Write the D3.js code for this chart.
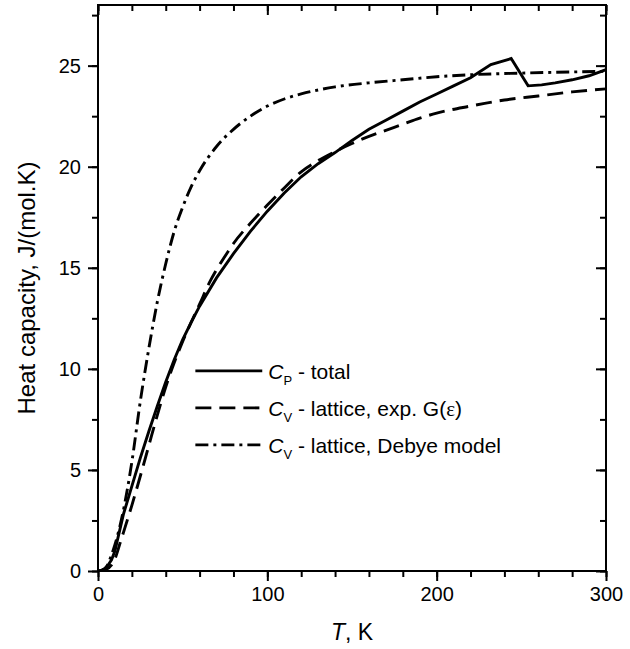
<!DOCTYPE html>
<html>
<head>
<meta charset="utf-8">
<script src="https://cdn.jsdelivr.net/npm/d3@7"></script>
<style>
  body { margin: 0; background: #fff; }
  text { font-family: "Liberation Sans", Arial, Helvetica, sans-serif; fill: #000; }
</style>
</head>
<body>
<script>
// C_P - total (measured)
const cpT = [0, 2, 4, 6, 8, 10, 15, 20, 25, 30, 35, 40, 45, 50, 55, 60, 70, 80, 90, 100, 110, 120, 130, 140, 150, 160, 170, 180, 190, 200, 210, 220, 232, 244, 254, 262, 270, 280, 290, 300];
const cpC = [0, 0.03, 0.12, 0.3, 0.55, 1.0, 2.8, 4.2, 5.6, 6.9, 8.15, 9.35, 10.45, 11.45, 12.3, 13.1, 14.5, 15.7, 16.8, 17.8, 18.7, 19.5, 20.15, 20.7, 21.3, 21.85, 22.3, 22.75, 23.2, 23.6, 24.0, 24.4, 25.05, 25.35, 24.0, 24.05, 24.15, 24.3, 24.5, 24.8];

// C_V - lattice, exp. G(e)
const cvT = [0, 4, 8, 10, 13, 15, 20, 25, 30, 35, 40, 45, 50, 55, 60, 66, 70, 76, 80, 90, 100, 110, 120, 130, 140, 150, 160, 170, 180, 190, 200, 220, 240, 260, 280, 300];
const cvC = [0, 0.05, 0.3, 0.6, 1.37, 1.9, 3.25, 4.7, 6.2, 7.7, 9.1, 10.3, 11.35, 12.3, 13.2, 14.3, 14.9, 15.7, 16.2, 17.2, 18.1, 18.95, 19.75, 20.3, 20.75, 21.15, 21.5, 21.8, 22.1, 22.4, 22.65, 23.0, 23.3, 23.5, 23.7, 23.85];

// C_V - lattice, Debye model
const dbT = [0, 2, 5, 8, 10, 15, 20, 25, 30, 35, 40, 45, 50, 55, 60, 70, 80, 90, 100, 110, 120, 140, 160, 180, 200, 220, 250, 300];
const dbC = [0, 0.02, 0.2, 0.8, 1.3, 3.0, 5.4, 8.4, 11.0, 13.3, 15.2, 16.8, 18.0, 19.0, 19.8, 21.0, 21.85, 22.5, 23.0, 23.35, 23.6, 23.95, 24.15, 24.3, 24.45, 24.55, 24.63, 24.72];

const xMajor = [0, 100, 200, 300];
const xMinor = d3.range(0, 301, 20);
const yMajor = [0, 5, 10, 15, 20, 25];
const yMinor = d3.range(0, 28, 2.5);

const width = 630;
const height = 649;
const margin = {top: 5, right: 24, bottom: 78, left: 98};
const w = width - margin.left - margin.right;
const h = height - margin.top - margin.bottom;

const svg = d3.select("body").append("svg")
  .attr("width", width)
  .attr("height", height)
  .append("g")
  .attr("transform", `translate(${margin.left}, ${margin.top})`);

const xscale = d3.scaleLinear().domain([0, 300]).range([0, w]);
const yscale = d3.scaleLinear().domain([0, 28]).range([h, 0]);

function styleAxis(g) {
  g.select(".domain").remove();
  g.selectAll("line").attr("stroke", "#000").attr("stroke-width", 2);
  g.selectAll("text").attr("font-size", "20px").style("font-family", "'Liberation Sans', Arial, sans-serif");
}

// bottom
svg.append("g").attr("transform", `translate(0, ${h})`)
  .call(d3.axisBottom(xscale).tickValues(xMinor).tickSize(6).tickFormat(""))
  .call(styleAxis);
svg.append("g").attr("transform", `translate(0, ${h})`)
  .call(d3.axisBottom(xscale).tickValues(xMajor).tickSize(10).tickPadding(6).tickFormat(d3.format("d")))
  .call(styleAxis);
// left
svg.append("g")
  .call(d3.axisLeft(yscale).tickValues(yMinor).tickSize(6).tickFormat(""))
  .call(styleAxis);
svg.append("g")
  .call(d3.axisLeft(yscale).tickValues(yMajor).tickSize(10).tickPadding(7).tickFormat(d3.format("d")))
  .call(styleAxis);
// top (inward)
svg.append("g")
  .call(d3.axisTop(xscale).tickValues(xMinor).tickSize(-6).tickFormat(""))
  .call(styleAxis);
svg.append("g")
  .call(d3.axisTop(xscale).tickValues(xMajor).tickSize(-10).tickFormat(""))
  .call(styleAxis);
// right (inward)
svg.append("g").attr("transform", `translate(${w}, 0)`)
  .call(d3.axisRight(yscale).tickValues(yMinor).tickSize(-6).tickFormat(""))
  .call(styleAxis);
svg.append("g").attr("transform", `translate(${w}, 0)`)
  .call(d3.axisRight(yscale).tickValues(yMajor).tickSize(-10).tickFormat(""))
  .call(styleAxis);

// frame
svg.append("rect")
  .attr("x", 0).attr("y", 0)
  .attr("width", w).attr("height", h)
  .attr("fill", "none")
  .attr("stroke", "#000")
  .attr("stroke-width", 2);

// axis titles
const xlab = svg.append("text")
  .attr("x", w / 2)
  .attr("y", h + 69)
  .attr("text-anchor", "middle")
  .attr("font-size", "23px");
xlab.append("tspan").attr("font-style", "italic").text("T");
xlab.append("tspan").text(", K");

svg.append("text")
  .attr("transform", "rotate(-90)")
  .attr("x", -h / 2)
  .attr("y", -63)
  .attr("text-anchor", "middle")
  .attr("font-size", "24px")
  .text("Heat capacity, J/(mol.K)");

// curves
const series = [
  {T: cpT, C: cpC, dash: null, curve: d3.curveLinear},
  {T: cvT, C: cvC, dash: "16,8", curve: d3.curveMonotoneX},
  {T: dbT, C: dbC, dash: "13,5,3,5", curve: d3.curveMonotoneX}
];

svg.append("clipPath").attr("id", "plotclip")
  .append("rect").attr("width", w).attr("height", h);

series.forEach(s => {
  const pts = s.T.map((t, i) => [t, s.C[i]]);
  const line = d3.line()
    .x(d => xscale(d[0]))
    .y(d => yscale(d[1]))
    .curve(s.curve);
  svg.append("path")
    .datum(pts)
    .attr("clip-path", "url(#plotclip)")
    .attr("fill", "none")
    .attr("stroke", "#000")
    .attr("stroke-width", 2.9)
    .attr("stroke-dasharray", s.dash)
    .attr("d", line);
});

// legend
const legendRows = [
  {sub: "P", rest: " - total", dash: null},
  {sub: "V", rest: " - lattice, exp. G(", eps: true, dash: "16,8"},
  {sub: "V", rest: " - lattice, Debye model", dash: "13,5,3,5"}
];
const lx0 = xscale(57.5), lx1 = xscale(97), ly0 = yscale(9.9), lstep = 37;

legendRows.forEach((r, i) => {
  const y = ly0 + i * lstep;
  svg.append("line")
    .attr("x1", lx0).attr("x2", lx1)
    .attr("y1", y).attr("y2", y)
    .attr("stroke", "#000")
    .attr("stroke-width", 2.9)
    .attr("stroke-dasharray", r.dash);
  const t = svg.append("text")
    .attr("x", lx1 + 6)
    .attr("y", y + 8)
    .attr("font-size", "21px");
  t.append("tspan").attr("font-style", "italic").text("C");
  t.append("tspan").attr("font-size", "13px").attr("dy", 6).text(r.sub);
  t.append("tspan").attr("dy", -6).text(r.rest);
  if (r.eps) {
    t.append("tspan").style("font-family", "'Liberation Serif', 'DejaVu Serif', serif").text("ε");
    t.append("tspan").text(")");
  }
});
</script>
</body>
</html>
